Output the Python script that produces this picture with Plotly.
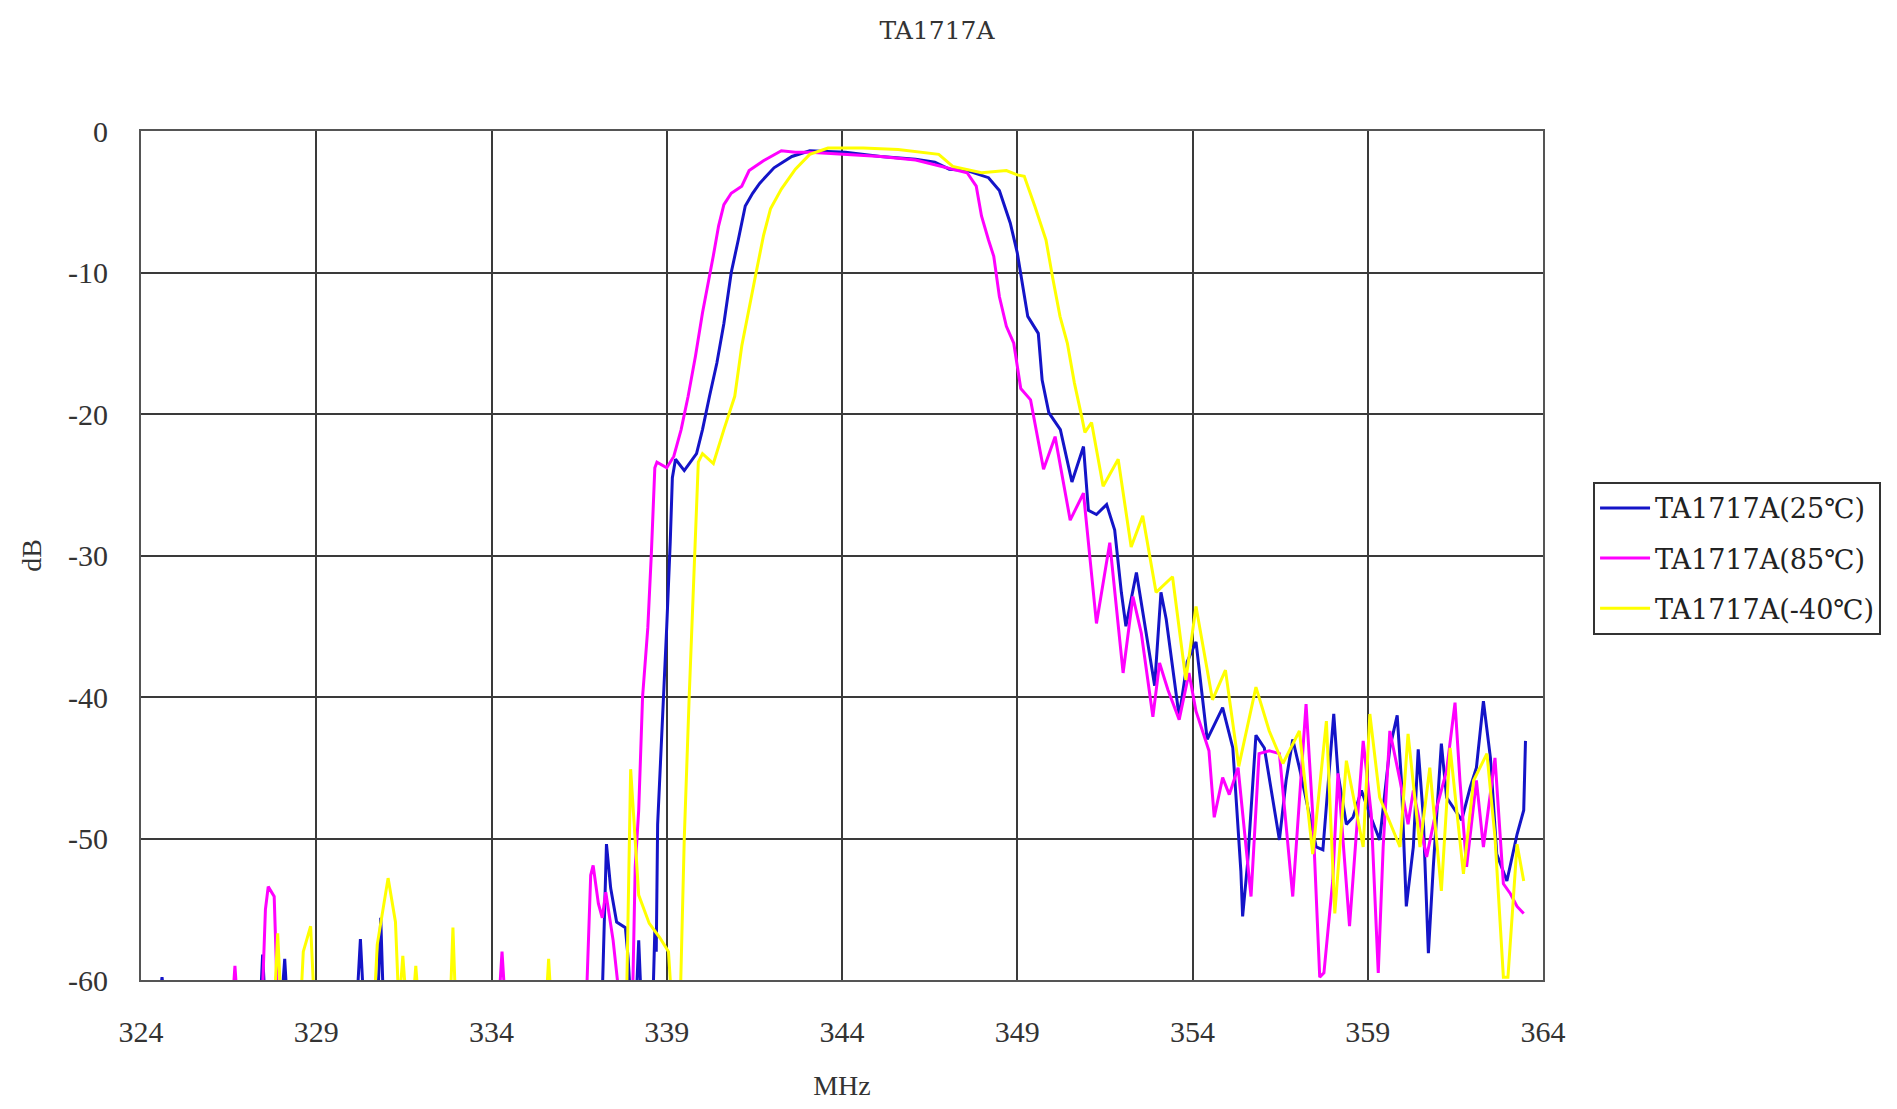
import plotly.graph_objects as go

chart_title = "TA1717A"
series_names = ["TA1717A(25℃)", "TA1717A(85℃)", "TA1717A(-40℃)"]
series_colors = ["#1414C8", "#FF00FF", "#FFFF00"]

x_tick_vals = [324, 329, 334, 339, 344, 349, 354, 359, 364]
x_tick_text = ["324", "329", "334", "339", "344", "349", "354", "359", "364"]
y_tick_vals = [0, -10, -20, -30, -40, -50, -60]
y_tick_text = ["0", "-10", "-20", "-30", "-40", "-50", "-60"]

# values below -60 dB are off-scale (clipped by the axis), stored as -62
freq_25 = [324.5, 324.6, 324.7, 327.4, 327.47, 327.55, 328.0, 328.1, 328.18,
           330.15, 330.26, 330.36, 330.75, 330.84, 330.92,
           337.15, 337.28, 337.4, 337.57, 337.82, 337.9, 337.98, 338.12, 338.2, 338.28,
           338.6, 338.66, 338.7, 338.74, 338.8, 338.9, 339.0, 339.1, 339.16, 339.25,
           339.5, 339.85, 340.02, 340.22, 340.43, 340.63, 340.84, 341.04, 341.24, 341.45,
           341.65, 342.06, 342.57, 343.08, 344.1, 345.1, 346.1, 346.65, 347.06, 347.57,
           348.18, 348.49, 348.8, 349.0, 349.2, 349.3, 349.6, 349.71, 349.9, 350.23,
           350.56, 350.89, 351.03, 351.26, 351.55, 351.78, 351.97, 352.1, 352.4, 352.68,
           352.92, 353.1, 353.25, 353.62, 353.85, 354.1, 354.42, 354.86, 355.15, 355.38,
           355.43, 355.57, 355.81, 356.05, 356.24, 356.48, 356.67, 356.86, 357.05, 357.24,
           357.53, 357.72, 358.03, 358.15, 358.39, 358.58, 358.82, 359.06, 359.34, 359.63,
           359.84, 359.96, 360.1, 360.3, 360.44, 360.58, 360.73, 360.87, 361.1, 361.25,
           361.44, 361.68, 361.92, 362.1, 362.3, 362.5, 362.68, 362.97, 363.26, 363.45, 363.5]
db_25 = [-62, -59.8, -62, -62, -58.2, -62, -62, -58.5, -62,
         -62, -57.1, -62, -62, -55.6, -62,
         -62, -50.4, -53.5, -55.9, -56.3, -58.5, -62, -62, -57.2, -62,
         -62, -56.5, -58, -49, -46, -40, -35, -29, -24.5, -23.2,
         -24.0, -22.8, -21.1, -18.75, -16.4, -13.6, -10.0, -7.7, -5.3, -4.4,
         -3.7, -2.6, -1.8, -1.4, -1.5, -1.8, -2.0, -2.2, -2.7, -2.8,
         -3.3, -4.2, -6.5, -8.6, -11.7, -13.1, -14.3, -17.6, -19.9, -21.1,
         -24.8, -22.3, -26.8, -27.1, -26.4, -28.2, -32.6, -35.0, -31.2, -35.5,
         -39.2, -32.6, -34.5, -41.4, -37.5, -36.1, -43.0, -40.75, -43.6, -52.3,
         -55.5, -51.8, -42.7, -43.6, -46.6, -50.1, -45.9, -43.0, -45.0, -47.3,
         -50.6, -50.8, -41.2, -45.4, -49.0, -48.5, -46.6, -48.3, -50.1, -43.6,
         -41.3, -45.9, -54.8, -50.6, -43.7, -48.3, -58.1, -52.0, -43.3, -47.1,
         -47.8, -48.7, -46.4, -45.0, -40.3, -44.3, -51.1, -53.0, -49.7, -48.0, -43.1]

freq_85 = [326.6, 326.68, 326.76, 327.45, 327.55, 327.63, 327.8, 327.84, 327.9,
           334.2, 334.3, 334.4,
           336.7, 336.83, 336.9, 337.05, 337.16, 337.26, 337.47, 337.68,
           338.02, 338.1, 338.2, 338.31, 338.46, 338.56, 338.66, 338.72, 339.0, 339.2,
           339.41, 339.61, 339.82, 340.02, 340.22, 340.33, 340.48, 340.63, 340.84, 341.14,
           341.35, 341.76, 342.27, 342.67, 343.08, 344.1, 345.1, 346.1, 346.96, 347.57,
           347.83, 347.98, 348.18, 348.33, 348.49, 348.69, 348.9, 349.1, 349.38, 349.75,
           350.08, 350.51, 350.89, 351.26, 351.64, 352.02, 352.3, 352.54, 352.87, 353.06,
           353.3, 353.62, 353.9, 354.1, 354.47, 354.62, 354.86, 355.05, 355.3, 355.67,
           355.9, 356.19, 356.48, 356.86, 357.24, 357.43, 357.63, 357.75, 358.0, 358.15,
           358.48, 358.87, 359.1, 359.3, 359.44, 359.63, 359.92, 360.15, 360.3, 360.68,
           360.97, 361.25, 361.49, 361.63, 361.82, 362.1, 362.3, 362.63, 362.87, 363.07,
           363.26, 363.45]
db_85 = [-62, -59.0, -62, -62, -55, -53.4, -54.1, -56.7, -62,
         -62, -58.0, -62,
         -62, -52.6, -51.9, -54.6, -55.6, -53.8, -57.2, -62,
         -62, -52, -48, -40, -35.1, -29.9, -23.8, -23.4, -23.8, -23.0,
         -21.1, -18.75, -15.9, -12.85, -10.3, -8.8, -6.7, -5.2, -4.4, -3.9,
         -2.8, -2.1, -1.4, -1.5, -1.5, -1.65, -1.8, -2.05, -2.6, -2.95,
         -3.9, -6.0, -7.7, -8.85, -11.7, -13.8, -15.0, -18.2, -19.0, -23.9,
         -21.6, -27.5, -25.6, -34.8, -29.1, -38.3, -32.9, -35.5, -41.4, -37.6,
         -39.5, -41.6, -38.3, -41.0, -43.8, -48.5, -45.7, -46.9, -45.0, -54.1,
         -44.0, -43.8, -44.0, -54.1, -40.5, -48.3, -59.8, -59.5, -53.0, -45.4,
         -56.2, -43.1, -48.3, -59.5, -50.6, -42.4, -45.9, -49.0, -46.6, -51.3,
         -47.8, -45.2, -40.4, -45.9, -52.0, -45.9, -50.6, -44.3, -53.2, -53.9,
         -54.8, -55.3]

freq_m40 = [327.8, 327.9, 328.0, 328.55, 328.63, 328.84, 328.95,
            330.65, 330.74, 331.05, 331.26, 331.36, 331.47, 331.58, 331.75, 331.84, 331.93,
            332.82, 332.9, 332.98, 335.55, 335.63, 335.71,
            337.85, 337.97, 338.05, 338.2, 338.5, 338.8, 339.05, 339.15, 339.38, 339.5,
            339.64, 339.79, 339.9, 340.02, 340.33, 340.63, 340.94, 341.14, 341.35, 341.55,
            341.76, 341.96, 342.27, 342.67, 343.08, 343.6, 344.6, 345.6, 346.76, 347.16,
            347.98, 348.69, 349.0, 349.2, 349.5, 349.82, 350.02, 350.22, 350.43, 350.63,
            350.84, 350.93, 351.12, 351.45, 351.88, 352.25, 352.58, 352.96, 353.43, 353.81,
            354.1, 354.57, 354.94, 355.32, 355.81, 356.19, 356.58, 357.05, 357.43, 357.82,
            358.06, 358.39, 358.87, 359.06, 359.34, 359.92, 360.15, 360.49, 360.77, 361.1,
            361.35, 361.73, 362.02, 362.4, 362.63, 362.87, 363.0, 363.26, 363.45]
db_m40 = [-62, -56.7, -62, -62, -58, -56.2, -62,
          -62, -57.5, -52.8, -55.9, -62, -58.3, -62, -62, -59, -62,
          -62, -56.3, -62, -62, -58.5, -62,
          -62, -45.1, -48, -54, -56, -57, -58, -62, -62, -50,
          -40, -30, -23.4, -22.8, -23.5, -21.1, -18.75, -15.2, -12.4, -10.0,
          -7.4, -5.5, -4.1, -2.7, -1.65, -1.2, -1.2, -1.3, -1.65, -2.5,
          -2.95, -2.8, -3.1, -3.2, -5.3, -7.7, -10.5, -13.1, -15.0, -17.8,
          -20.2, -21.3, -20.6, -25.1, -23.2, -29.4, -27.2, -32.6, -31.5, -38.8,
          -33.6, -40.2, -38.1, -44.9, -39.3, -42.4, -44.7, -42.4, -51.1, -41.7,
          -55.3, -44.5, -50.6, -41.2, -47.1, -50.6, -42.6, -50.6, -45.0, -53.7,
          -43.6, -52.5, -45.9, -44.0, -49.9, -59.8, -59.8, -50.4, -53.0]

SERIF = "Liberation Serif, DejaVu Serif, serif"
WIDE_SERIF = "DejaVu Serif, Liberation Serif, serif"

fig = go.Figure()
for name, color, xs, ys in zip(series_names, series_colors,
                               [freq_25, freq_85, freq_m40],
                               [db_25, db_85, db_m40]):
    fig.add_trace(go.Scatter(x=xs, y=ys, mode="lines", name=name,
                             legendgroup=name,
                             line=dict(color=color, width=3)))

# page body has an 8px margin; size the figure so the plot lands where the reference has it
W, H = 1889, 1093
fig.update_layout(
    width=W, height=H,
    paper_bgcolor="white", plot_bgcolor="white",
    margin=dict(l=133, r=354, t=123, b=121),
    font=dict(family=SERIF, size=28, color="#222"),
    title=dict(text=chart_title, x=(937 - 8) / W, xref="container", xanchor="center",
               y=1 - 22 / H, yref="container", yanchor="middle",
               font=dict(family=WIDE_SERIF, size=25, color="#333")),
    showlegend=True,
    legend=dict(x=1.0357, y=0.5867, xanchor="left", yanchor="top",
                bgcolor="white", bordercolor="#333", borderwidth=2,
                font=dict(family=WIDE_SERIF, size=27, color="#222"),
                itemwidth=50, tracegroupgap=12),
)

fig.update_xaxes(
    range=[324, 364], tickvals=x_tick_vals, ticktext=x_tick_text,
    showgrid=True, gridcolor="#3a3a3a", gridwidth=2,
    showline=True, linecolor="#555", linewidth=2, mirror=True,
    zeroline=False, ticks="", ticklabelstandoff=24, automargin=False,
    tickfont=dict(family=SERIF, size=30, color="#333"),
    title=dict(text="MHz", standoff=36, font=dict(family=SERIF, size=28, color="#333")),
)
fig.update_yaxes(
    range=[-60, 0], tickvals=y_tick_vals, ticktext=y_tick_text,
    showgrid=True, gridcolor="#3a3a3a", gridwidth=2,
    showline=True, linecolor="#555", linewidth=2, mirror=True,
    zeroline=False, ticks="", ticklabelstandoff=25, automargin=False,
    tickfont=dict(family=SERIF, size=30, color="#333"),
    title=dict(text="dB", standoff=18, font=dict(family=SERIF, size=28, color="#333")),
)

fig.write_html("out.html")
